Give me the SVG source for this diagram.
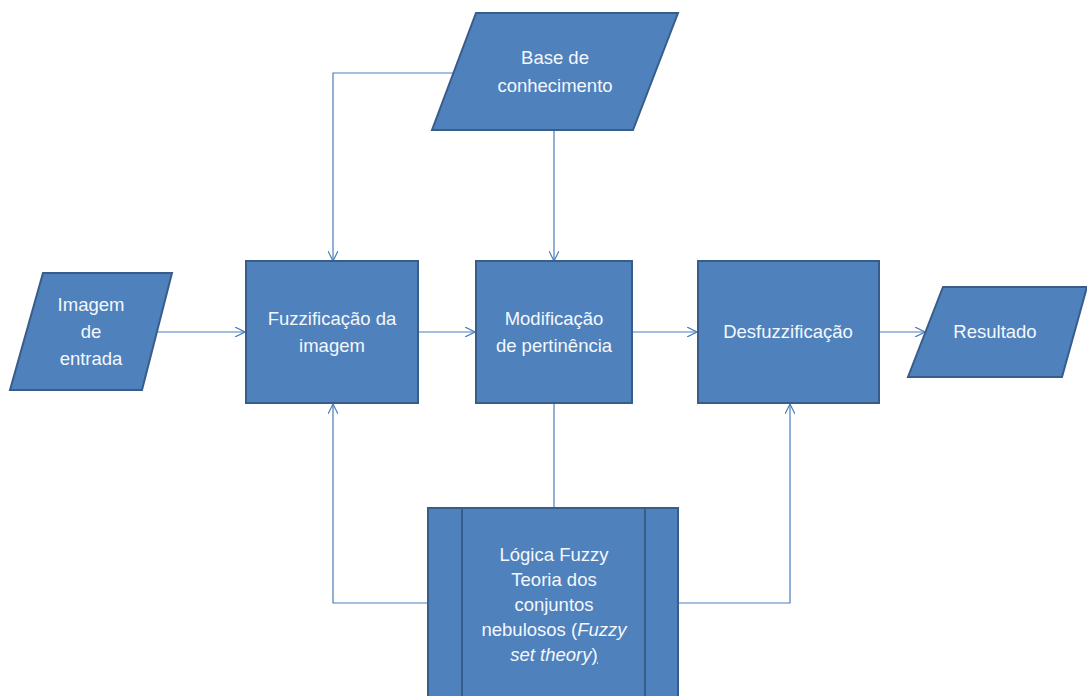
<svg xmlns="http://www.w3.org/2000/svg" width="1087" height="696" viewBox="0 0 1087 696">
  <defs>
    <marker id="arrow" viewBox="0 0 10 10" refX="10" refY="5" markerWidth="10" markerHeight="10" markerUnits="userSpaceOnUse" orient="auto">
      <path d="M0,0 L10,5 L0,10" fill="none" stroke="#4a7ebb" stroke-width="1.2"/>
    </marker>
  </defs>
  <style>
    .shape { fill: #4f81bd; stroke: #385d8a; stroke-width: 2; }
    .inner { fill: none; stroke: #385d8a; stroke-width: 2; }
    .conn { fill: none; stroke: #4a7ebb; stroke-width: 1.2; }
    .label { font-family: "Liberation Sans", Arial, sans-serif; font-size: 18.5px; fill: #f4f8fc; text-anchor: middle; }
  </style>
  <rect width="1087" height="696" fill="#ffffff"/>

  <g id="connectors">
    <!-- knowledge base to fuzzification -->
    <polyline class="conn" points="453,73 333,73 333,261" marker-end="url(#arrow)"/>
    <!-- knowledge base to membership modification -->
    <polyline class="conn" points="554,130 554,261" marker-end="url(#arrow)"/>
    <!-- main pipeline -->
    <line class="conn" x1="157" y1="332" x2="245" y2="332" marker-end="url(#arrow)"/>
    <line class="conn" x1="419" y1="332" x2="475" y2="332" marker-end="url(#arrow)"/>
    <line class="conn" x1="633" y1="332" x2="697" y2="332" marker-end="url(#arrow)"/>
    <line class="conn" x1="880" y1="332" x2="925" y2="332" marker-end="url(#arrow)"/>
    <!-- fuzzy logic links -->
    <line class="conn" x1="554" y1="404" x2="554" y2="508"/>
    <polyline class="conn" points="428,603 333,603 333,404" marker-end="url(#arrow)"/>
    <polyline class="conn" points="678,603 790,603 790,404" marker-end="url(#arrow)"/>
  </g>

  <g id="base-conhecimento">
    <polygon class="shape" points="476,13 678,13 633,130 432,130"/>
    <text class="label" x="555" y="64">Base de</text>
    <text class="label" x="555" y="92">conhecimento</text>
  </g>

  <g id="imagem-entrada">
    <polygon class="shape" points="43,273 172,273 142,390 10,390"/>
    <text class="label" x="91" y="311">Imagem</text>
    <text class="label" x="91" y="338">de</text>
    <text class="label" x="91" y="365">entrada</text>
  </g>

  <g id="fuzzificacao">
    <rect class="shape" x="246" y="261" width="172" height="142"/>
    <text class="label" x="332" y="325">Fuzzificação da</text>
    <text class="label" x="332" y="352">imagem</text>
  </g>

  <g id="modificacao">
    <rect class="shape" x="476" y="261" width="156" height="142"/>
    <text class="label" x="554" y="325">Modificação</text>
    <text class="label" x="554" y="352">de pertinência</text>
  </g>

  <g id="desfuzzificacao">
    <rect class="shape" x="698" y="261" width="181" height="142"/>
    <text class="label" x="788" y="338">Desfuzzificação</text>
  </g>

  <g id="resultado">
    <polygon class="shape" points="943,287 1087,287 1062,377 908,377"/>
    <text class="label" x="995" y="338">Resultado</text>
  </g>

  <g id="logica-fuzzy">
    <rect class="shape" x="428" y="508" width="250" height="200"/>
    <line class="inner" x1="462" y1="508" x2="462" y2="696"/>
    <line class="inner" x1="645" y1="508" x2="645" y2="696"/>
    <text class="label" x="554" y="561">Lógica Fuzzy</text>
    <text class="label" x="554" y="586">Teoria dos</text>
    <text class="label" x="554" y="611">conjuntos</text>
    <text class="label" x="554" y="636">nebulosos (<tspan font-style="italic">Fuzzy</tspan></text>
    <text class="label" x="554" y="661"><tspan font-style="italic">set theory</tspan><tspan text-decoration="underline">)</tspan></text>
  </g>
</svg>
